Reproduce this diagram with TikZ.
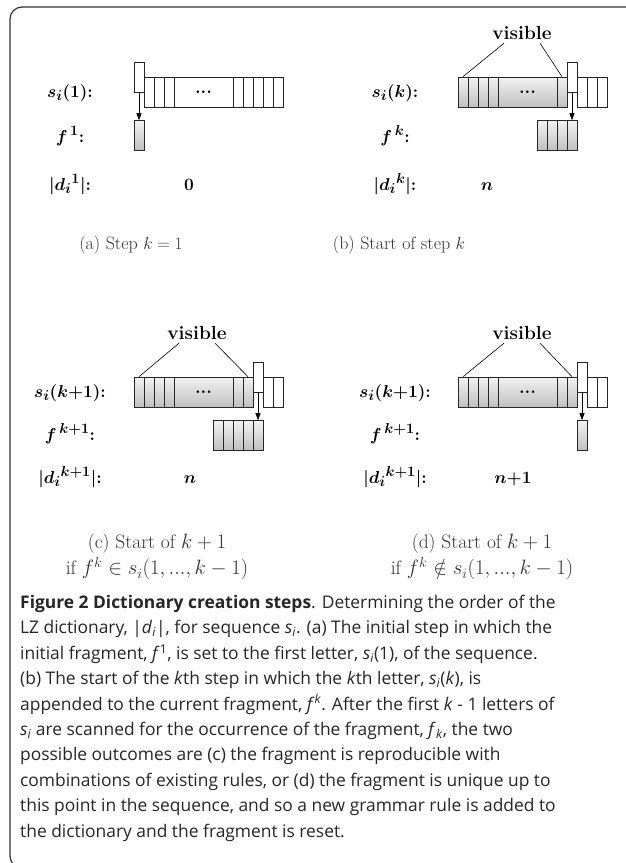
\documentclass[tikz,border=0pt]{standalone}
\usepackage{fontspec}
\newfontfamily\capfont{Open Sans}
\usetikzlibrary{arrows.meta}

\newcommand{\ssub}[2]{\textit{#1}\textsubscript{\textit{#2}}}

\tikzset{
  cell/.style={draw=black!85, line width=0.6pt, rectangle, inner sep=0pt,
    minimum width=10pt, minimum height=30pt},
  grad/.style={top color=gray!10, bottom color=gray!50},
  bigcell/.style={cell, minimum width=59pt, font=\bfseries\fontsize{18}{18}\selectfont},
  lab/.style={anchor=base, font=\fontsize{19}{22}\selectfont\boldmath},
  sub/.style={align=center, font=\fontsize{18}{24}\selectfont, text=black!80},
  pull/.style={-{Triangle[length=7pt,width=5pt]}, line width=0.6pt},
  vis/.style={font=\bfseries\fontsize{19}{22}\selectfont},
}

\begin{document}
\begin{tikzpicture}[x=1pt,y=-1pt]
  \useasboundingbox (0,0) rectangle (625,863);
  \draw[line width=1.2pt, black!80, rounded corners=12pt] (640,7) -- (10,7) -- (10,868) -- (40,868);

  % (a) step k = 1
  \node[cell] (a-r) at (139,77) {};
  \foreach \i in {1,2,3}
    \node[cell] (a-\i) at (139+10*\i,92) {};
  \node[bigcell] (a-big) at (203.5,92) {...};
  \foreach \j in {0,...,4}
    \node[cell] (a-e\j) at (238+10*\j,92) {};
  \node[cell,grad] (a-f) at (139,135.5) {};
  \draw[pull] (a-r) -- (a-f);
  \node[lab] (a-ls) at (70,97) {$s_i(1){:}$};
  \node[lab] (a-lf) at (70,142) {$f^{\,1}{:}$};
  \node[lab] (a-ld) at (70,190) {$|{d_i}^{1}|{:}$};
  \node[lab] (a-n) at (189,190) {$0$};
  \node[sub] (a-cap) at (131,245) {(a) Step $k=1$};

  % (b) start of step k
  \foreach \i in {0,...,3}
    \node[cell,grad] (b-\i) at (463+10*\i,92) {};
  \node[bigcell,grad] (b-big) at (527.5,92) {...};
  \node[cell,grad] (b-e0) at (562,92) {};
  \node[cell] (b-r) at (572,77) {};
  \foreach \j in {2,3,4}
    \node[cell] (b-e\j) at (562+10*\j,92) {};
  \foreach \j in {1,...,4}
    \node[cell,grad] (b-f\j) at (532+10*\j,135.5) {};
  \draw[pull] (b-r) -- (b-f4);
  \node[vis] (b-vis) at (522,33) {visible};
  \draw[line width=0.6pt] ([xshift=-18pt]b-vis.south) -- (b-0.north);
  \draw[line width=0.6pt] ([xshift=18pt]b-vis.south) -- (b-e0.north);
  \node[lab] (b-ls) at (395,97) {$s_i(k){:}$};
  \node[lab] (b-lf) at (395,142) {$f^{\,k}{:}$};
  \node[lab] (b-ld) at (395,190) {$|{d_i}^{k}|{:}$};
  \node[lab] (b-n) at (487,190) {$n$};
  \node[sub] (b-cap) at (399,245) {(b) Start of step $k$};

  % (c) fragment already known
  \foreach \i in {0,...,3}
    \node[cell,grad] (c-\i) at (139+10*\i,392) {};
  \node[bigcell,grad] (c-big) at (203.5,392) {...};
  \foreach \j in {0,1}
    \node[cell,grad] (c-e\j) at (238+10*\j,392) {};
  \node[cell] (c-r) at (258,377) {};
  \foreach \j in {3,4}
    \node[cell] (c-e\j) at (238+10*\j,392) {};
  \foreach \j in {1,...,5}
    \node[cell,grad] (c-f\j) at (208+10*\j,435.5) {};
  \draw[pull] (c-r) -- (c-f5);
  \node[vis] (c-vis) at (197,333) {visible};
  \draw[line width=0.6pt] ([xshift=-18pt]c-vis.south) -- (c-0.north);
  \draw[line width=0.6pt] ([xshift=18pt]c-vis.south) -- (c-e1.north);
  \node[lab] (c-ls) at (70,397) {$s_i(k{+}1){:}$};
  \node[lab] (c-lf) at (70,440) {$f^{\,k+1}{:}$};
  \node[lab] (c-ld) at (70,483) {$|{d_i}^{k+1}|{:}$};
  \node[lab] (c-n) at (190,483) {$n$};
  \node[sub, font=\fontsize{19.5}{26.5}\selectfont] (c-cap) at (157,557)
    {(c) Start of $k+1$\\ if $f^k\in s_i(1,...,k-1)$};

  % (d) new rule
  \foreach \i in {0,...,3}
    \node[cell,grad] (d-\i) at (463+10*\i,392) {};
  \node[bigcell,grad] (d-big) at (527.5,392) {...};
  \foreach \j in {0,1}
    \node[cell,grad] (d-e\j) at (562+10*\j,392) {};
  \node[cell] (d-r) at (582,377) {};
  \foreach \j in {3,4}
    \node[cell] (d-e\j) at (562+10*\j,392) {};
  \node[cell,grad] (d-f) at (582,435.5) {};
  \draw[pull] (d-r) -- (d-f);
  \node[vis] (d-vis) at (522,333) {visible};
  \draw[line width=0.6pt] ([xshift=-18pt]d-vis.south) -- (d-0.north);
  \draw[line width=0.6pt] ([xshift=18pt]d-vis.south) -- (d-e1.north);
  \node[lab] (d-ls) at (395,397) {$s_i(k{+}1){:}$};
  \node[lab] (d-lf) at (395,440) {$f^{\,k+1}{:}$};
  \node[lab] (d-ld) at (395,483) {$|{d_i}^{k+1}|{:}$};
  \node[lab] (d-n) at (513,483) {$n{+}1$};
  \node[sub, font=\fontsize{19.5}{26.5}\selectfont] (d-cap) at (482,557)
    {(d) Start of $k+1$\\ if $f^k\notin s_i(1,...,k-1)$};

  % figure caption
  \node[anchor=north west, inner sep=0pt, align=left, text=black!85,
    font=\capfont\fontsize{17.4}{25.4}\selectfont] (fig-cap) at (20,595)
    {\textbf{Figure 2 Dictionary creation steps}. Determining the order of the\\
     LZ dictionary, |\ssub{d}{i}|, for sequence \ssub{s}{i}. (a) The initial step in which the\\
     initial fragment, \textit{f}\textsuperscript{1}, is set to the first letter, \ssub{s}{i}(1), of the sequence.\\
     (b) The start of the \textit{k}th step in which the \textit{k}th letter, \ssub{s}{i}(\textit{k}), is\\
     appended to the current fragment, \textit{f}\textsuperscript{\textit{k}}. After the first \textit{k} - 1 letters of\\
     \ssub{s}{i} are scanned for the occurrence of the fragment, \ssub{f}{k}, the two\\
     possible outcomes are (c) the fragment is reproducible with\\
     combinations of existing rules, or (d) the fragment is unique up to\\
     this point in the sequence, and so a new grammar rule is added to\\
     the dictionary and the fragment is reset.};
\end{tikzpicture}
\end{document}
